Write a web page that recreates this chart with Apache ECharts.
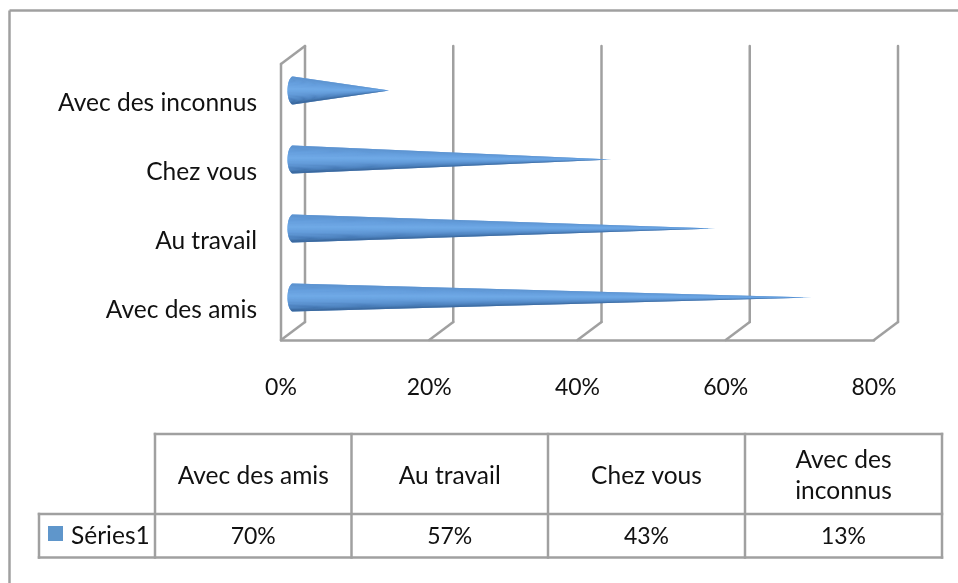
<!DOCTYPE html>
<html>
<head>
<meta charset="utf-8">
<style>html,body{margin:0;padding:0;background:#fff}#chart{width:958px;height:583px}</style>
<script src="https://cdn.jsdelivr.net/npm/echarts@6/dist/echarts.min.js"></script>
</head>
<body>
<div id="chart"></div>
<script>
// Bottom-to-top order on the category axis
const categories = ['Avec des amis', 'Au travail', 'Chez vous', 'Avec des inconnus'];
const seriesName = 'Séries1';
const values = [70, 57, 43, 13];
const xTicks = [0, 20, 40, 60, 80];

const FONT = 'Lato, Carlito, "Open Sans", sans-serif';
const FONT_SIZE = 24.5;
const NUMBER_SIZE = 23;
const LINE = '#a0a0a0';
const LINE_WIDTH = 2.5;
const TEXT = '#111111';

// Front plane of the 3D box, and the oblique offset to its back wall
const plot = { left: 281, right: 874, top: 64, bottom: 340 };
const depth = { x: 24, y: -18 };

// Shading across a cone: angle -1 (upper edge) to 1 (lower edge)
const coneRamp = [
  [-1.0, [88, 140, 200]], [-0.55, [100, 157, 220]], [-0.1, [113, 171, 232]],
  [0.35, [96, 152, 214]], [0.72, [70, 122, 182]], [1.0, [40, 80, 130]]
];
function shade(t) {
  for (let i = 1; i < coneRamp.length; i++) {
    if (t <= coneRamp[i][0]) {
      const a = coneRamp[i - 1], b = coneRamp[i];
      const k = (t - a[0]) / (b[0] - a[0]);
      const c = a[1].map((v, j) => Math.round(v + (b[1][j] - v) * k));
      return 'rgb(' + c.join(',') + ')';
    }
  }
  return 'rgb(40,80,130)';
}

// Box walls: one back gridline with its floor diagonal per tick
function renderWall(params, api) {
  const p = api.coord([api.value(0), categories[0]]);
  const x = p[0];
  const style = { stroke: LINE, lineWidth: LINE_WIDTH, fill: null, lineCap: 'round' };
  const backBottom = plot.bottom + depth.y;
  const backTop = plot.top + depth.y;
  const children = [
    { type: 'line', shape: { x1: x + depth.x, y1: backTop, x2: x + depth.x, y2: backBottom }, style },
    { type: 'line', shape: { x1: x, y1: plot.bottom, x2: x + depth.x, y2: backBottom }, style }
  ];
  if (api.value(0) === 0) {
    children.push(
      { type: 'line', shape: { x1: x, y1: plot.top, x2: x, y2: plot.bottom }, style },
      { type: 'line', shape: { x1: x, y1: plot.top, x2: x + depth.x, y2: backTop }, style }
    );
  }
  return { type: 'group', children };
}

// Horizontal cone: fan of slivers from the tip to the rounded base
function renderCone(params, api) {
  const base = api.coord([0, api.value(1)]);
  const end = api.coord([api.value(0), api.value(1)]);
  const cx = base[0] + depth.x / 2;
  const cy = base[1] + depth.y / 2 + 1;
  const tip = [end[0] + depth.x / 2, cy];
  const h = 14, rx = 5.5, n = 28;
  const rim = [];
  for (let i = 0; i <= n; i++) {
    const a = -Math.PI / 2 + Math.PI * i / n;
    rim.push([cx - rx * Math.cos(a), cy + h * Math.sin(a)]);
  }
  const children = [{
    type: 'polygon',
    shape: { points: rim.concat([tip]) },
    style: { fill: shade(0) }
  }];
  for (let i = 0; i < n; i++) {
    children.push({
      type: 'polygon',
      shape: { points: [tip, rim[i], rim[i + 1]] },
      style: { fill: shade(Math.sin(-Math.PI / 2 + Math.PI * (i + 0.5) / n)), stroke: null }
    });
  }
  return { type: 'group', children };
}

// Data table underneath the plot
const table = { cols: [155, 351.5, 548, 745, 942], keyLeft: 39, top: 434, mid: 514, bottom: 557.5 };
function tableGraphics() {
  const s = { stroke: LINE, lineWidth: LINE_WIDTH, lineCap: 'square' };
  const t = table;
  const out = [];
  const hline = (x1, x2, y) => out.push({ type: 'line', shape: { x1, y1: y, x2, y2: y }, style: s });
  const vline = (x, y1, y2) => out.push({ type: 'line', shape: { x1: x, y1, x2: x, y2 }, style: s });
  const label = (x, y, text, size, align) => out.push({
    type: 'text', x, y,
    style: { text, font: size + 'px ' + FONT, fill: TEXT, align: align || 'center', verticalAlign: 'middle', lineHeight: 31 }
  });
  hline(t.cols[0], t.cols[4], t.top);
  hline(t.keyLeft, t.cols[4], t.mid);
  hline(t.keyLeft, t.cols[4], t.bottom);
  t.cols.forEach(x => vline(x, t.top, t.bottom));
  vline(t.keyLeft, t.mid, t.bottom);
  categories.forEach((c, i) => {
    const x = (t.cols[i] + t.cols[i + 1]) / 2;
    label(x, (t.top + t.mid) / 2 + 2, c === 'Avec des inconnus' ? 'Avec des\ninconnus' : c, FONT_SIZE);
    label(x, (t.mid + t.bottom) / 2 + 1, values[i] + '%', NUMBER_SIZE);
  });
  out.push({ type: 'rect', shape: { x: 48, y: 526, width: 15, height: 15 }, style: { fill: '#5f96cb' } });
  label(71, (t.mid + t.bottom) / 2, seriesName, FONT_SIZE, 'left');
  // Chart frame: only its top and left edges fall inside the page
  const frame = { stroke: LINE, lineWidth: LINE_WIDTH };
  out.push({ type: 'line', shape: { x1: 9.5, y1: 10.5, x2: 958, y2: 10.5 }, style: frame });
  out.push({ type: 'line', shape: { x1: 9.5, y1: 10.5, x2: 9.5, y2: 583 }, style: frame });
  return out;
}

const chart = echarts.init(document.getElementById('chart'), null, { renderer: 'canvas' });
chart.setOption({
  animation: false,
  backgroundColor: '#ffffff',
  grid: {
    left: plot.left,
    top: plot.top,
    width: plot.right - plot.left,
    height: plot.bottom - plot.top
  },
  xAxis: {
    type: 'value', min: 0, max: 80, interval: 20,
    axisLine: { show: true, onZero: false, lineStyle: { color: LINE, width: LINE_WIDTH } },
    axisTick: { show: false },
    splitLine: { show: false },
    axisLabel: { formatter: '{value}%', margin: 36, fontSize: NUMBER_SIZE, fontFamily: FONT, color: TEXT }
  },
  yAxis: {
    type: 'category', data: categories,
    axisLine: { show: false },
    axisTick: { show: false },
    axisLabel: {
      margin: 24,
      formatter: '{name|{value}}',
      rich: { name: { fontSize: FONT_SIZE, fontFamily: FONT, color: TEXT, padding: [10, 0, 0, 0] } }
    }
  },
  series: [
    {
      type: 'custom', silent: true, z: 1,
      data: xTicks.map(v => [v]),
      encode: { x: 0 },
      renderItem: renderWall
    },
    {
      type: 'custom', name: seriesName, z: 2,
      data: values.map((v, i) => [v, i]),
      encode: { x: 0, y: 1 },
      renderItem: renderCone
    }
  ],
  graphic: { elements: tableGraphics() }
});
</script>
</body>
</html>
